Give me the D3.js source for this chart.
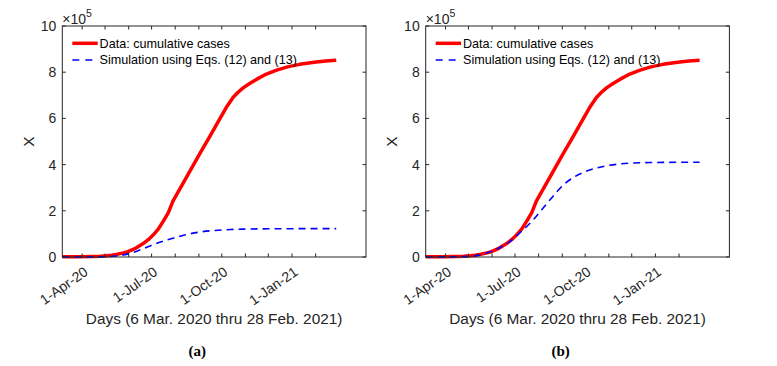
<!DOCTYPE html>
<html>
<head>
<meta charset="utf-8">
<script src="https://cdn.jsdelivr.net/npm/d3@7/dist/d3.min.js"></script>
<style>
    body { margin: 0; background: #fff; }
    svg { display: block; font-family: "Liberation Sans", Arial, sans-serif; }
    .tick-label { font-size: 14px; fill: #262626; }
    .axis-label { font-size: 15.4px; fill: #262626; }
    .legend-label { font-size: 12.6px; fill: #000; }
    .caption { font-family: "Liberation Serif", "Times New Roman", serif; font-weight: bold; font-size: 15px; fill: #000; }
</style>
</head>
<body>
<div id="chart"></div>
<script>
// days counted from 6 Mar 2020, values in units of 10^5
var dataDays   = [0, 20, 40, 50, 58, 65, 72, 80, 86, 95, 106, 113, 119, 126, 132, 139, 145, 163, 180, 193, 206, 215, 224, 230, 237, 245, 255, 265, 280, 295, 311, 330, 345, 359];
var dataCases  = [0.01, 0.01, 0.02, 0.03, 0.05, 0.08, 0.12, 0.18, 0.23, 0.36, 0.58, 0.76, 0.95, 1.22, 1.53, 1.92, 2.42, 3.47, 4.46, 5.2, 5.96, 6.48, 6.92, 7.12, 7.32, 7.5, 7.7, 7.88, 8.08, 8.23, 8.34, 8.43, 8.48, 8.52];

var simADays   = [0, 40, 58, 70, 80, 88, 100, 115, 130, 145, 160, 180, 200, 220, 241, 270, 300, 330, 359];
var simAValues = [0, 0.005, 0.015, 0.04, 0.09, 0.15, 0.28, 0.48, 0.66, 0.81, 0.95, 1.08, 1.15, 1.19, 1.21, 1.22, 1.225, 1.23, 1.23];

var simBDays   = [0, 40, 58, 70, 80, 88, 98, 108, 123, 141, 152, 163, 174, 184, 195, 211, 225, 237, 255, 272, 300, 330, 359];
var simBValues = [0, 0.01, 0.03, 0.08, 0.17, 0.27, 0.42, 0.61, 1.04, 1.61, 2.05, 2.48, 2.9, 3.22, 3.47, 3.72, 3.86, 3.95, 4.03, 4.07, 4.09, 4.1, 4.1];

var yTicks = [0, 2, 4, 6, 8, 10];
var xTickLabels = ["1-Apr-20", "1-Jul-20", "1-Oct-20", "1-Jan-21"];
var legendLabels = ["Data: cumulative cases", "Simulation using Eqs. (12) and (13)"];
var xLabel = "Days (6 Mar. 2020 thru 28 Feb. 2021)";
var yLabel = "X";

var startDate = new Date(2020, 2, 6);
var endDate = new Date(2021, 3, 8);
var fmt = d3.timeFormat("%-d-%b-%y");

function toPoints(days, vals) {
    return days.map(function(d, i) { return { date: d3.timeDay.offset(startDate, d), value: vals[i] }; });
}

var svg = d3.select("#chart").append("svg")
    .attr("width", 777)
    .attr("height", 366);

function drawPanel(offsetX, simDays, simValues, caption) {
    var margin = { left: 62.3, top: 26, width: 303.7, height: 231 };
    var g = svg.append("g").attr("transform", "translate(" + offsetX + ",0)");

    var x = d3.scaleTime().domain([startDate, endDate]).range([margin.left, margin.left + margin.width]);
    var y = d3.scaleLinear().domain([0, 10]).range([margin.top + margin.height, margin.top]);
    var x0 = margin.left, x1 = margin.left + margin.width, y0 = margin.top + margin.height, y1 = margin.top;

    var dataLine = d3.line()
        .x(function(d) { return x(d.date); })
        .y(function(d) { return y(d.value); });

    var simLine = d3.line()
        .x(function(d) { return x(d.date); })
        .y(function(d) { return y(d.value); })
        .curve(d3.curveMonotoneX);

    // data curve
    g.append("path")
        .datum(toPoints(dataDays, dataCases))
        .attr("d", dataLine)
        .attr("fill", "none")
        .attr("stroke", "#ff0000")
        .attr("stroke-width", 3.5)
        .attr("stroke-linejoin", "round");

    // simulation curve
    g.append("path")
        .datum(toPoints(simDays, simValues))
        .attr("d", simLine)
        .attr("fill", "none")
        .attr("stroke", "#0000ff")
        .attr("stroke-width", 1.6)
        .attr("stroke-dasharray", "7,5");

    // box
    g.append("rect")
        .attr("x", x0).attr("y", y1)
        .attr("width", margin.width).attr("height", margin.height)
        .attr("fill", "none")
        .attr("stroke", "#262626")
        .attr("stroke-width", 1);

    var monthTicks = d3.timeMonth.range(new Date(2020, 3, 1), new Date(2021, 2, 1));
    var tickLen = 3.5;

    monthTicks.forEach(function(t) {
        g.append("line").attr("x1", x(t)).attr("x2", x(t)).attr("y1", y0).attr("y2", y0 - tickLen).attr("stroke", "#262626");
        g.append("line").attr("x1", x(t)).attr("x2", x(t)).attr("y1", y1).attr("y2", y1 + tickLen).attr("stroke", "#262626");
        if (xTickLabels.indexOf(fmt(t)) >= 0) {
            g.append("text")
                .attr("class", "tick-label")
                .attr("text-anchor", "end")
                .attr("transform", "translate(" + (x(t) + 4) + "," + (y0 + 13) + ") rotate(-35)")
                .attr("dy", "0.35em")
                .text(fmt(t));
        }
    });

    yTicks.forEach(function(v) {
        g.append("line").attr("x1", x0).attr("x2", x0 + tickLen).attr("y1", y(v)).attr("y2", y(v)).attr("stroke", "#262626");
        g.append("line").attr("x1", x1).attr("x2", x1 - tickLen).attr("y1", y(v)).attr("y2", y(v)).attr("stroke", "#262626");
        g.append("text")
            .attr("class", "tick-label")
            .attr("text-anchor", "end")
            .attr("x", x0 - 6)
            .attr("y", y(v))
            .attr("dy", "0.35em")
            .text(v);
    });

    // exponent label
    var expo = g.append("text").attr("class", "tick-label").attr("x", x0).attr("y", 23.5).style("font-size", "14px");
    expo.append("tspan").text("\u00d710");
    expo.append("tspan").attr("dy", -7).style("font-size", "10.5px").text("5");

    g.append("text")
        .attr("class", "axis-label")
        .attr("text-anchor", "middle")
        .attr("x", (x0 + x1) / 2)
        .attr("y", 324)
        .text(xLabel);

    g.append("text")
        .attr("class", "axis-label")
        .attr("text-anchor", "middle")
        .attr("transform", "translate(34," + ((y0 + y1) / 2) + ") rotate(-90)")
        .text(yLabel);

    // legend
    var legend = g.append("g").attr("transform", "translate(" + (x0 + 10) + ",0)");
    legend.append("line").attr("x1", 0).attr("x2", 25.4).attr("y1", 43.3).attr("y2", 43.3)
        .attr("stroke", "#ff0000").attr("stroke-width", 3.5);
    legend.append("line").attr("x1", 0).attr("x2", 25.4).attr("y1", 60).attr("y2", 60)
        .attr("stroke", "#0000ff").attr("stroke-width", 1.6).attr("stroke-dasharray", "7,6");
    legend.append("text").attr("class", "legend-label").attr("x", 27.3).attr("y", 43.3).attr("dy", "0.35em").text(legendLabels[0]);
    legend.append("text").attr("class", "legend-label").attr("x", 27.3).attr("y", 60).attr("dy", "0.35em").text(legendLabels[1]);

    g.append("text")
        .attr("class", "caption")
        .attr("text-anchor", "middle")
        .attr("x", x0 + 135)
        .attr("y", 356)
        .text(caption);
}

drawPanel(0, simADays, simAValues, "(a)");
drawPanel(363.4, simBDays, simBValues, "(b)");
</script>
</body>
</html>
